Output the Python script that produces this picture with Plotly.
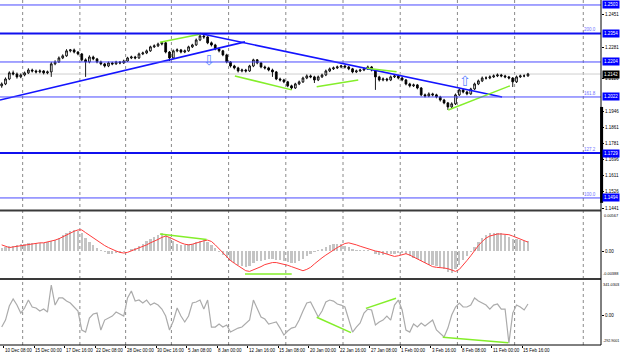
import plotly.graph_objects as go

# ---------------- data (EURUSD H4, one candle per 2 H4 bars; bar 0 = 10 Dec 08:00) ----------------
OPEN0 = 1.2080
CLOSE = [1.2090, 1.2116, 1.2148, 1.2142, 1.2127, 1.2137, 1.2148, 1.2163, 1.2158, 1.2153,
         1.2158, 1.2148, 1.2153, 1.2195, 1.2205, 1.2226, 1.2237, 1.2263, 1.2268, 1.2257,
         1.2247, 1.2216, 1.2205, 1.2231, 1.2221, 1.2205, 1.2195, 1.2184, 1.2200, 1.2195,
         1.2205, 1.2200, 1.2210, 1.2226, 1.2231, 1.2226, 1.2247, 1.2252, 1.2263, 1.2284,
         1.2289, 1.2299, 1.2305, 1.2257, 1.2226, 1.2263, 1.2268, 1.2257, 1.2263, 1.2284,
         1.2294, 1.2320, 1.2341, 1.2336, 1.2305, 1.2294, 1.2273, 1.2263, 1.2242, 1.2205,
         1.2184, 1.2174, 1.2158, 1.2163, 1.2158, 1.2184, 1.2216, 1.2200, 1.2179, 1.2174,
         1.2163, 1.2153, 1.2116, 1.2111, 1.2101, 1.2080, 1.2069, 1.2090, 1.2101, 1.2121,
         1.2132, 1.2127, 1.2111, 1.2127, 1.2137, 1.2158, 1.2169, 1.2174, 1.2179, 1.2184,
         1.2179, 1.2169, 1.2153, 1.2158, 1.2163, 1.2169, 1.2179, 1.2163, 1.2127, 1.2111,
         1.2116, 1.2111, 1.2127, 1.2132, 1.2121, 1.2111, 1.2090, 1.2080, 1.2085, 1.2069,
         1.2033, 1.2027, 1.2038, 1.2033, 1.2022, 1.2006, 1.1991, 1.1970, 1.1986, 1.2033,
         1.2059, 1.2048, 1.2038, 1.2064, 1.2090, 1.2106, 1.2121, 1.2121, 1.2127, 1.2132,
         1.2137, 1.2132, 1.2127, 1.2121, 1.2101, 1.2127, 1.2132, 1.2132, 1.2142]
HIGH = [1.2098, 1.2124, 1.2156, 1.2160, 1.2150, 1.2145, 1.2155, 1.2172, 1.2170, 1.2165,
        1.2166, 1.2163, 1.2160, 1.2205, 1.2214, 1.2234, 1.2245, 1.2272, 1.2273, 1.2275,
        1.2262, 1.2252, 1.2224, 1.2240, 1.2238, 1.2226, 1.2212, 1.2200, 1.2207, 1.2206,
        1.2211, 1.2210, 1.2217, 1.2232, 1.2238, 1.2237, 1.2254, 1.2259, 1.2270, 1.2290,
        1.2297, 1.2306, 1.2310, 1.2309, 1.2262, 1.2270, 1.2276, 1.2273, 1.2270, 1.2290,
        1.2300, 1.2328, 1.2349, 1.2347, 1.2340, 1.2312, 1.2300, 1.2280, 1.2268, 1.2248,
        1.2210, 1.2190, 1.2180, 1.2170, 1.2169, 1.2190, 1.2222, 1.2220, 1.2205, 1.2186,
        1.2180, 1.2170, 1.2158, 1.2123, 1.2117, 1.2106, 1.2086, 1.2096, 1.2108, 1.2128,
        1.2140, 1.2139, 1.2133, 1.2134, 1.2144, 1.2165, 1.2176, 1.2181, 1.2186, 1.2190,
        1.2189, 1.2184, 1.2174, 1.2165, 1.2170, 1.2176, 1.2186, 1.2184, 1.2168, 1.2133,
        1.2124, 1.2122, 1.2134, 1.2140, 1.2138, 1.2127, 1.2116, 1.2096, 1.2092, 1.2090,
        1.2074, 1.2040, 1.2046, 1.2044, 1.2039, 1.2028, 1.2012, 1.1996, 1.1994, 1.2040,
        1.2066, 1.2064, 1.2054, 1.2070, 1.2097, 1.2113, 1.2129, 1.2130, 1.2135, 1.2140,
        1.2145, 1.2143, 1.2138, 1.2132, 1.2126, 1.2134, 1.2139, 1.2140, 1.2148]
LOW = [1.2070, 1.2084, 1.2110, 1.2135, 1.2118, 1.2120, 1.2130, 1.2142, 1.2150, 1.2145,
       1.2146, 1.2140, 1.2141, 1.2127, 1.2188, 1.2200, 1.2220, 1.2232, 1.2255, 1.2250,
       1.2240, 1.2208, 1.2127, 1.2198, 1.2214, 1.2198, 1.2188, 1.2176, 1.2178, 1.2188,
       1.2190, 1.2193, 1.2195, 1.2205, 1.2220, 1.2219, 1.2221, 1.2241, 1.2246, 1.2258,
       1.2278, 1.2283, 1.2292, 1.2250, 1.2210, 1.2220, 1.2256, 1.2250, 1.2251, 1.2258,
       1.2278, 1.2289, 1.2314, 1.2326, 1.2298, 1.2286, 1.2266, 1.2255, 1.2235, 1.2198,
       1.2176, 1.2166, 1.2150, 1.2151, 1.2150, 1.2153, 1.2178, 1.2193, 1.2172, 1.2166,
       1.2156, 1.2127, 1.2110, 1.2103, 1.2094, 1.2073, 1.2060, 1.2064, 1.2084, 1.2095,
       1.2115, 1.2120, 1.2095, 1.2105, 1.2121, 1.2131, 1.2152, 1.2163, 1.2168, 1.2172,
       1.2171, 1.2162, 1.2146, 1.2147, 1.2152, 1.2157, 1.2163, 1.2156, 1.2059, 1.2103,
       1.2104, 1.2103, 1.2105, 1.2121, 1.2114, 1.2104, 1.2083, 1.2072, 1.2074, 1.2062,
       1.2026, 1.2019, 1.2021, 1.2025, 1.2015, 1.1998, 1.1984, 1.1954, 1.1962, 1.1980,
       1.2027, 1.2041, 1.2031, 1.2033, 1.2058, 1.2084, 1.2100, 1.2113, 1.2115, 1.2121,
       1.2126, 1.2125, 1.2120, 1.2114, 1.2074, 1.2095, 1.2121, 1.2125, 1.2128]

# MACD main (histogram) and signal, in units of 0.0001
MACD_HIST_E4 = [5, 6, 7, 8, 9, 10, 11, 12, 12, 12,
                12, 12, 13, 14, 16, 19, 23, 27, 30, 31,
                30, 26, 19, 13, 9, 5, 2, -2, -4, -4,
                -3, -3, -2, 0, 3, 5, 8, 11, 14, 17,
                20, 23, 26, 25, 20, 15, 11, 9, 9, 10,
                11, 13, 15, 16, 13, 9, 4, -2, -6, -10,
                -14, -17, -20, -22, -23, -22, -18, -15, -14, -13,
                -12, -12, -13, -13, -14, -16, -18, -18, -15, -12,
                -8, -4, -1, 1, 3, 6, 9, 11, 11, 10,
                8, 6, 3, 1, 1, 2, 2, 0, -4, -6,
                -6, -5, -5, -4, -3, -3, -5, -8, -10, -12,
                -15, -18, -20, -21, -22, -24, -27, -31, -32, -27,
                -20, -13, -7, -1, 6, 13, 19, 23, 26, 27,
                27, 26, 24, 21, 18, 17, 16, 15, 14]
MACD_SIGNAL_E4 = [9, 7, 5, 6, 7, 8, 9, 10, 11, 11,
                  12, 12, 13, 14, 16, 18, 21, 24, 27, 29,
                  31, 31, 27, 23, 19, 15, 11, 8, 5, 2,
                  0, -2, -3, -2, 0, 2, 4, 6, 9, 12,
                  14, 17, 20, 22, 20, 17, 14, 12, 10, 9,
                  10, 12, 14, 15, 16, 14, 9, 3, -2, -8,
                  -14, -18, -22, -26, -29, -30, -28, -25, -23, -20,
                  -18, -17, -17, -18, -19, -21, -23, -25, -28, -29,
                  -27, -24, -19, -14, -10, -6, -2, 2, 5, 8,
                  11, 12, 11, 9, 7, 5, 3, 1, 0, -1,
                  -3, -5, -7, -8, -7, -5, -4, -6, -9, -12,
                  -15, -18, -21, -23, -24, -24, -25, -26, -28, -30,
                  -27, -21, -14, -7, 1, 8, 14, 19, 22, 24,
                  25, 25, 25, 24, 22, 20, 18, 15, 13]
CCI = [-117, -49, 88, 156, 97, 19, 68, 146, 78, 68,
       39, 58, 29, 292, 97, 166, 166, 136, 117, 78,
       39, -146, -166, -29, 10, 19, -146, -49, -29, -10,
       29, 10, -10, 166, 234, 136, 146, 117, 146, 97,
       117, 97, 58, -10, -146, -58, 68, -10, -68, -10,
       117, 127, 146, 58, 146, -117, -117, -88, -117, -97,
       -166, -146, -127, -117, -78, -49, 146, 68, -19, -39,
       -88, -78, -68, -127, -195, -156, -127, -117, -49, 39,
       117, 127, 49, -19, 39, 127, 146, 136, 107, 97,
       78, -49, -166, -117, -78, 19, 58, 49, -97, -68,
       -49, -10, -49, 97, 146, 49, -146, -166, -88, -117,
       -78, -107, -78, -49, -146, -185, -214, -127, 0, 78,
       117, 78, 78, 97, 166, 136, 117, 97, 58, 97,
       107, 58, 58, -273, 19, 97, 78, 49, 107]

DATE_BARS = [0, 16, 32, 48, 64, 80, 96, 112, 128, 144, 160, 176, 192, 208, 224, 240, 256, 272]
DATE_LABELS = ["10 Dec 08:00", "15 Dec 00:00", "17 Dec 16:00", "22 Dec 08:00", "28 Dec 00:00",
               "30 Dec 16:00", "5 Jan 08:00", "8 Jan 00:00", "12 Jan 16:00", "15 Jan 08:00",
               "20 Jan 00:00", "22 Jan 16:00", "27 Jan 08:00", "1 Feb 00:00", "3 Feb 16:00",
               "8 Feb 08:00", "11 Feb 00:00", "15 Feb 16:00"]
WEEK_GRID_BARS = [10, 40, 64, 88, 118, 148, 178, 208, 238, 268, 304]

PRICE_TICKS = [1.2451, 1.2281, 1.2116, 1.1946, 1.1861, 1.1781, 1.1696, 1.1611, 1.1526, 1.1441]
LEVEL_PRICES = [1.2503, 1.2354, 1.2205, 1.2022, 1.1729, 1.1494]
LEVEL_LABELS = ["1.2503", "1.2354", "1.2204", "1.2022", "1.1729", "1.1494"]
LEVEL_FIBO = ["", "200.0", "", "161.8", "127.2", "100.0"]
LEVEL_BOLD = [False, True, False, False, True, False]
LAST_PRICE = 1.2142

TREND_LINES = [([-1.9, 126.6], [1.2006, 1.2310]),
               ([103.0, 261.4], [1.2354, 1.2022])]
PRICE_DIVERGENCES = [([82.0, 103.0], [1.2308, 1.2350]),
                     ([121.3, 151.1], [1.2132, 1.2059]),
                     ([164.2, 186.0], [1.2076, 1.2111]),
                     ([190.4, 206.1], [1.2172, 1.2154]),
                     ([233.2, 265.5], [1.1954, 1.2080])]
MACD_DIVERGENCES = [([82.0, 106.5], [0.0025, 0.0017]),
                    ([126.6, 151.1], [-0.0034, -0.0034])]
CCI_DIVERGENCES = [([164.2, 182.2], [-22, -172]),
                   ([190.0, 205.8], [65, 163]),
                   ([230.3, 264.7], [-217, -270])]
ARROWS = [(107.5, 1.2214, "⇩"), (241.9, 1.2108, "⇧")]

MACD_MAX_TEXT, MACD_ZERO_TEXT, MACD_MIN_TEXT = "0.00567", "0.00", "-0.00388"
CCI_MAX_TEXT, CCI_ZERO_TEXT, CCI_MIN_TEXT = "341.0303", "0.00", "-292.9001"

# ---------------- derived ----------------
N = len(CLOSE)
BAR = [2 * k - 1 for k in range(N)]
OPEN = [OPEN0] + CLOSE[:-1]
MACD_HIST = [v * 1e-4 for v in MACD_HIST_E4]
MACD_SIGNAL = [v * 1e-4 for v in MACD_SIGNAL_E4]

FONT = "Liberation Sans, Arial, sans-serif"
FS = 4.5
FS_SMALL = 3.9
BLUE = "#0000ff"
GREEN = "#84ee2a"

MAIN_DOM = [0.3913, 1.0]
MACD_DOM = [0.1942, 0.3884]
CCI_DOM = [0.0, 0.1884]

fig = go.Figure()

# main price panel
fig.add_trace(go.Candlestick(
    x=BAR, open=OPEN, high=HIGH, low=LOW, close=CLOSE,
    increasing=dict(line=dict(color="black", width=0.9), fillcolor="white"),
    decreasing=dict(line=dict(color="black", width=0.9), fillcolor="black"),
    whiskerwidth=0, xaxis="x", yaxis="y", hoverinfo="skip"))

for xs, ys in TREND_LINES:
    fig.add_trace(go.Scatter(x=xs, y=ys, mode="lines", line=dict(color="#1414ff", width=1.6),
                             xaxis="x", yaxis="y", hoverinfo="skip"))
for xs, ys in PRICE_DIVERGENCES:
    fig.add_trace(go.Scatter(x=xs, y=ys, mode="lines", line=dict(color=GREEN, width=1.5),
                             xaxis="x", yaxis="y", hoverinfo="skip"))

# MACD panel
fig.add_trace(go.Bar(x=BAR, y=MACD_HIST, marker=dict(color="#c4c4c4", line=dict(width=0)),
                     width=1.2, xaxis="x", yaxis="y2", hoverinfo="skip"))
fig.add_trace(go.Scatter(x=BAR, y=MACD_SIGNAL, mode="lines", line=dict(color="#ff3c3c", width=1),
                         xaxis="x", yaxis="y2", hoverinfo="skip"))
for xs, ys in MACD_DIVERGENCES:
    fig.add_trace(go.Scatter(x=xs, y=ys, mode="lines", line=dict(color=GREEN, width=1.5),
                             xaxis="x", yaxis="y2", hoverinfo="skip"))

# CCI panel
fig.add_trace(go.Scatter(x=BAR, y=CCI, mode="lines", line=dict(color="#ababab", width=1.2),
                         xaxis="x", yaxis="y3", hoverinfo="skip"))
for xs, ys in CCI_DIVERGENCES:
    fig.add_trace(go.Scatter(x=xs, y=ys, mode="lines", line=dict(color=GREEN, width=1.5),
                             xaxis="x", yaxis="y3", hoverinfo="skip"))

shapes = []
for b in WEEK_GRID_BARS:
    shapes.append(dict(type="line", xref="x", yref="paper", x0=b, x1=b, y0=0, y1=1,
                       line=dict(color="#8a8a8a", width=1, dash="dot"), layer="below"))
shapes.append(dict(type="line", xref="paper", yref="y", x0=0, x1=1, y0=LAST_PRICE, y1=LAST_PRICE,
                   line=dict(color="#cfcfcf", width=1), layer="below"))
for p, bold in zip(LEVEL_PRICES, LEVEL_BOLD):
    shapes.append(dict(type="line", xref="paper", yref="y", x0=0, x1=1, y0=p, y1=p,
                       line=dict(color="#1010ee" if bold else "#4a4aff", width=2 if bold else 1)))
for yp in [0.3899, 0.1913]:
    shapes.append(dict(type="line", xref="paper", yref="paper", x0=0, x1=1, y0=yp, y1=yp,
                       line=dict(color="#3a3a3a", width=2)))
shapes.append(dict(type="line", xref="paper", yref="paper", x0=1, x1=1, y0=0, y1=1,
                   line=dict(color="black", width=1)))
shapes.append(dict(type="line", xref="paper", yref="paper", x0=0, x1=1, y0=0, y1=0,
                   line=dict(color="black", width=1)))
shapes.append(dict(type="rect", xref="paper", yref="paper", x0=0.9985, x1=1.0035, y0=0.412, y1=0.690,
                   fillcolor="black", line=dict(width=0)))

annotations = []


def rlabel(y, yref, text, yanchor="middle", bg=None, color="black", size=FS, xshift=2):
    d = dict(x=1, y=y, xref="paper", yref=yref, text=text, showarrow=False,
             xanchor="left", yanchor=yanchor, xshift=xshift,
             font=dict(size=size, color=color, family=FONT))
    if bg:
        d.update(bgcolor=bg, borderpad=1, xshift=1)
    return d


for b, t in zip(DATE_BARS, DATE_LABELS):
    annotations.append(dict(x=b, y=0, xref="x", yref="paper", text=t, showarrow=False,
                            xanchor="left", yanchor="top", yshift=-1, xshift=-1,
                            font=dict(size=FS, color="black", family=FONT)))
for p in PRICE_TICKS:
    annotations.append(rlabel(p, "y", f"{p:.4f}"))
for p, lab, fib in zip(LEVEL_PRICES, LEVEL_LABELS, LEVEL_FIBO):
    annotations.append(rlabel(p, "y", lab, bg=BLUE, color="white"))
    if fib:
        annotations.append(dict(x=311.5, y=p, xref="x", yref="y", text=fib, showarrow=False,
                                xanchor="right", yanchor="bottom", yshift=-1,
                                font=dict(size=FS, color="#7070ff", family=FONT)))
annotations.append(rlabel(LAST_PRICE, "y", f"{LAST_PRICE:.4f}", bg="black", color="white"))
# indicator scale labels (max at top, zero, min at bottom of each sub-window)
annotations.append(rlabel(MACD_DOM[1], "paper", MACD_MAX_TEXT, yanchor="top", size=FS_SMALL, xshift=1))
annotations.append(rlabel(0, "y2", MACD_ZERO_TEXT))
annotations.append(rlabel(MACD_DOM[0], "paper", MACD_MIN_TEXT, yanchor="bottom", size=FS_SMALL, xshift=0))
annotations.append(rlabel(CCI_DOM[1], "paper", CCI_MAX_TEXT, yanchor="top", size=FS_SMALL, xshift=0))
annotations.append(rlabel(0, "y3", CCI_ZERO_TEXT))
annotations.append(rlabel(CCI_DOM[0], "paper", CCI_MIN_TEXT, yanchor="bottom", size=3.6, xshift=0))
for b, p, glyph in ARROWS:
    annotations.append(dict(x=b, y=p, xref="x", yref="y", text=glyph, showarrow=False,
                            font=dict(size=14, color="#5f86ff", family="DejaVu Sans")))

axstyle = dict(side="right", showgrid=False, zeroline=False, showline=False, showticklabels=False,
               ticks="outside", ticklen=2, tickcolor="black", anchor="x", fixedrange=True)

fig.update_layout(
    width=620, height=357, margin=dict(l=0, r=19, t=0, b=12, pad=0),
    paper_bgcolor="white", plot_bgcolor="white", showlegend=False, bargap=0, boxgap=0.35,
    xaxis=dict(range=[-1.89, 313.3], showgrid=False, zeroline=False, showline=False,
               tickvals=DATE_BARS, ticks="outside", ticklen=2, tickcolor="black",
               showticklabels=False, anchor="y3", rangeslider=dict(visible=False), fixedrange=True),
    yaxis=dict(domain=MAIN_DOM, range=[1.1431, 1.2529], tickvals=PRICE_TICKS, **axstyle),
    yaxis2=dict(domain=MACD_DOM, range=[-0.00397, 0.00588], tickvals=[0], **axstyle),
    yaxis3=dict(domain=CCI_DOM, range=[-292, 341], tickvals=[0], **axstyle),
    shapes=shapes, annotations=annotations,
)

fig.write_html("out.html", config={"displayModeBar": False, "staticPlot": True},
               post_script="document.body.style.margin='0';document.body.style.padding='0';")
